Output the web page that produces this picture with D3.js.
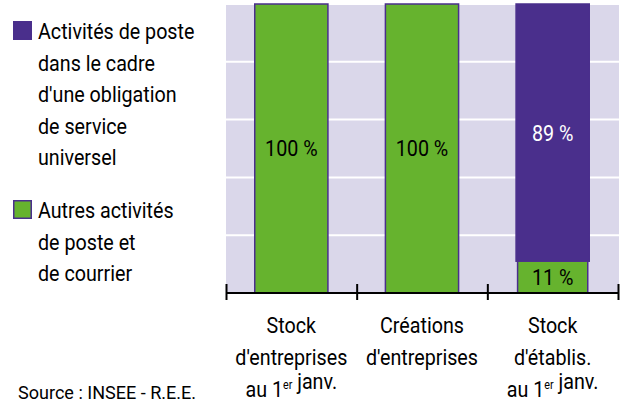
<!DOCTYPE html>
<html>
<head>
<meta charset="utf-8">
<script src="https://cdn.jsdelivr.net/npm/d3@7"></script>
<style>
  body { margin: 0; background: white; }
  svg text { font-family: Roboto, "Liberation Sans", sans-serif; font-weight: 400; }
</style>
</head>
<body>
<div id="chart"></div>
<script>
let w = 627;
let h = 405;

// data
const categories = ["stockEntreprises", "creations", "stockEtablis"];
const categoryLines = [
  ["Stock", "d'entreprises", "au 1{er} janv."],
  ["Créations", "d'entreprises"],
  ["Stock", "d'établis.", "au 1{er} janv."]
];
const autresActivites = [100, 100, 11];
const serviceUniversel = [0, 0, 89];
const yTicks = [20, 40, 60, 80];
const legendItems = [
  { key: "serviceUniversel", lines: ["Activités de poste", "dans le cadre", "d'une obligation", "de service", "universel"] },
  { key: "autresActivites", lines: ["Autres activités", "de poste et", "de courrier"] }
];
const source = "Source : INSEE - R.E.E.";

const green = "#66b32e";
const purple = "#4a2f8c";
const bg = "#dad7ea";
const colors = { autresActivites: green, serviceUniversel: purple };
const fontSize = 22;

let svg = d3.select("#chart")
  .append("svg")
  .attr("width", w)
  .attr("height", h);

// the original uses a condensed face: squeeze text horizontally
let probe = svg.append("text").attr("font-size", fontSize).text("d'entreprises");
const sx = 112 / probe.node().getComputedTextLength();
probe.remove();

function label(parent, px, py, str, opts) {
  opts = opts || {};
  let g = parent.append("g").attr("transform", `translate(${px}, ${py}) scale(${opts.sx || sx}, 1)`);
  let t = g.append("text")
    .attr("font-size", opts.size || fontSize)
    .attr("text-anchor", opts.anchor || "start")
    .attr("dy", opts.dy || 0)
    .attr("fill", opts.fill || "black");
  // text in {} is superscript
  let parts = str.split(/(\{[^}]*\})/).filter(p => p.length);
  parts.forEach(p => {
    if (p[0] == "{") {
      t.append("tspan").attr("font-size", 12).attr("dy", -8).text(p.slice(1, -1));
      t.append("tspan").attr("dy", 8).text("");
    } else {
      t.append("tspan").text(p);
    }
  });
  return t;
}

let x = d3.scaleBand()
  .domain(categories)
  .range([226, 618]);

let y = d3.scaleLinear()
  .domain([0, 100])
  .range([293, 4]);

const barW = x.bandwidth() * 0.56;

// background
svg.append("rect")
  .attr("x", x.range()[0])
  .attr("y", y(100) + 1)
  .attr("width", x.range()[1] - x.range()[0] + 1)
  .attr("height", y(0) - y(100) - 1)
  .attr("fill", bg);

// gridlines
svg.selectAll("line.grid")
  .data(yTicks)
  .join("line")
  .attr("class", "grid")
  .attr("x1", x.range()[0])
  .attr("x2", x.range()[1] + 1)
  .attr("y1", d => y(d))
  .attr("y2", d => y(d))
  .attr("stroke", "white")
  .attr("stroke-width", 2);

// stacked bars
let rows = categories.map((c, i) => ({ cat: c, autresActivites: autresActivites[i], serviceUniversel: serviceUniversel[i] }));
let stack = d3.stack().keys(["autresActivites", "serviceUniversel"])(rows);

// purple segments first, then green on top
[stack[1], stack[0]].forEach(layer => {
  let key = layer.key;
  let segs = layer.filter(d => d[1] - d[0] > 0);
  let inset = d => (key == "autresActivites" && d.data.serviceUniversel > 0) ? 1.5 : 0;
  svg.append("g")
    .selectAll("rect")
    .data(segs)
    .join("rect")
    .attr("x", d => x(d.data.cat) + (x.bandwidth() - barW) / 2 + inset(d))
    .attr("width", d => barW - inset(d) * 2)
    .attr("y", d => y(d[1]))
    .attr("height", d => y(d[0]) - y(d[1]))
    .attr("fill", colors[key])
    .attr("stroke", purple)
    .attr("stroke-width", 1.5);

  segs.forEach(d => {
    label(svg, x(d.data.cat) + x.bandwidth() / 2, (y(d[0]) + y(d[1])) / 2, (d[1] - d[0]) + " %", {
      anchor: "middle",
      dy: "0.36em",
      fill: key == "serviceUniversel" ? "white" : "black"
    });
  });
});

// axis
let axis = svg.append("g");
axis.append("line")
  .attr("x1", x.range()[0])
  .attr("x2", x.range()[1] + 1)
  .attr("y1", y(0))
  .attr("y2", y(0))
  .attr("stroke", "black")
  .attr("stroke-width", 2);

let tickPos = categories.map(c => x(c)).concat([x.range()[1]]);
axis.selectAll("line.tick")
  .data(tickPos)
  .join("line")
  .attr("class", "tick")
  .attr("x1", d => d + 0.5)
  .attr("x2", d => d + 0.5)
  .attr("y1", y(0) - 9)
  .attr("y2", y(0) + 7)
  .attr("stroke", "black")
  .attr("stroke-width", 2);

// category labels
categories.forEach((c, i) => {
  categoryLines[i].forEach((line, j) => {
    label(svg, x(c) + x.bandwidth() / 2, 333 + j * 32, line, { anchor: "middle" });
  });
});

// legend
let legendY = [21, 200];
legendItems.forEach((item, i) => {
  let g = svg.append("g").attr("transform", `translate(13, ${legendY[i]})`);
  g.append("rect")
    .attr("x", 0.75)
    .attr("y", 0.75)
    .attr("width", 17.5)
    .attr("height", 17.5)
    .attr("fill", colors[item.key])
    .attr("stroke", purple)
    .attr("stroke-width", 1.5);
  item.lines.forEach((line, j) => {
    label(g, 25, 18 + j * 31.5, line);
  });
});

// source
label(svg, 18, 399, source, { size: 18, sx: sx * 1.12 });
</script>
</body>
</html>
